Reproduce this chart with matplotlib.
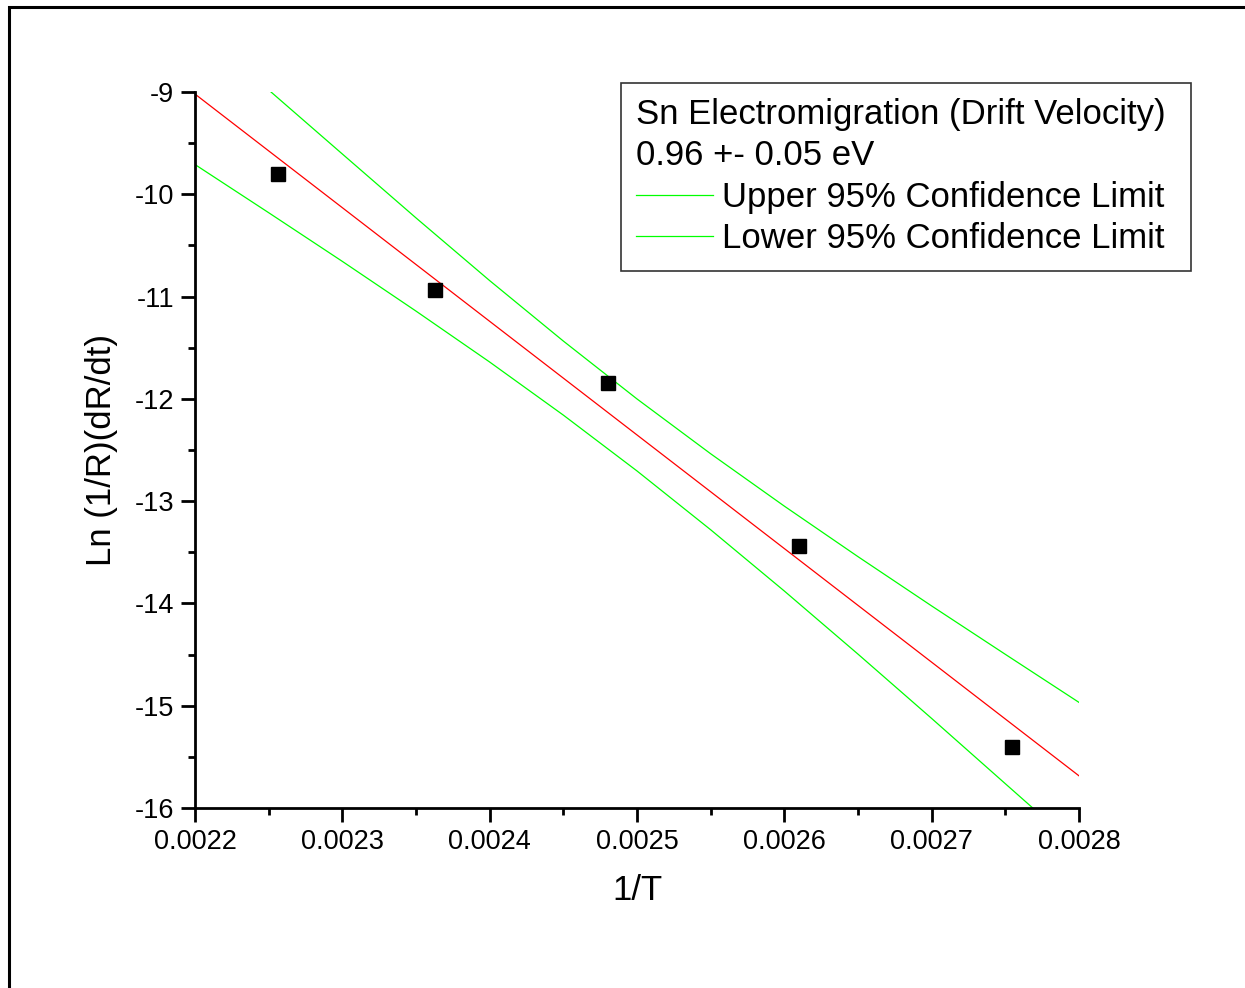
import numpy as np
import matplotlib
matplotlib.use('Agg')
import matplotlib.pyplot as plt
from matplotlib.patches import Rectangle
from matplotlib.ticker import MultipleLocator

plt.rcParams['font.family'] = ['Liberation Sans', 'DejaVu Sans']

# measured points
inv_t = [0.0022563, 0.0023629, 0.0024803, 0.0026100, 0.0027545]
ln_rate = [-9.80, -10.935, -11.845, -13.438, -15.403]

# linear fit (endpoints)
fit_x = [0.0022, 0.0028]
fit_y = [-9.02, -15.686]

# 95% confidence bands
upper_x = [0.0022516, 0.0023, 0.00235, 0.0024, 0.00245, 0.0025, 0.00255,
           0.0026, 0.00265, 0.0027, 0.00275, 0.0028]
upper_y = [-9.0, -9.606, -10.231, -10.844, -11.435, -12.001, -12.537,
           -13.049, -13.543, -14.025, -14.498, -14.968]
lower_x = [0.0022, 0.00225, 0.0023, 0.00235, 0.0024, 0.00245, 0.0025,
           0.00255, 0.0026, 0.00265, 0.0027, 0.00275, 0.0027686]
lower_y = [-9.709, -10.180, -10.656, -11.142, -11.640, -12.159, -12.705,
           -13.280, -13.879, -14.496, -15.125, -15.763, -16.0]

fig = plt.figure(figsize=(12.45, 9.88), dpi=100)
ax = fig.add_axes([0.1566, 0.1822, 0.7101, 0.7247])

ax.plot(fit_x, fit_y, color='#ff0000', lw=0.9)
ax.plot(upper_x, upper_y, color='#00ff00', lw=0.9, label='Upper 95% Confidence Limit')
ax.plot(lower_x, lower_y, color='#00ff00', lw=0.9, label='Lower 95% Confidence Limit')
ax.plot(inv_t, ln_rate, 's', color='black', markersize=10, zorder=5)

ax.set_xlim(0.0022, 0.0028)
ax.set_ylim(-16, -9)
ax.xaxis.set_major_locator(MultipleLocator(0.0001))
ax.xaxis.set_minor_locator(MultipleLocator(0.00005))
ax.yaxis.set_major_locator(MultipleLocator(1))
ax.yaxis.set_minor_locator(MultipleLocator(0.5))
ax.set_xticklabels([f'{v:.4f}' for v in ax.get_xticks()])
ax.set_yticklabels([f'{int(v)}' for v in ax.get_yticks()])

for s in ['top', 'right']:
    ax.spines[s].set_visible(False)
for s in ['left', 'bottom']:
    ax.spines[s].set_linewidth(2)
ax.tick_params(which='major', length=10, width=2, labelsize=19.5, pad=5)
ax.tick_params(which='minor', length=5, width=2)

ax.set_xlabel('1/T', fontsize=25, labelpad=14)
ax.set_ylabel('Ln (1/R)(dR/dt)', fontsize=25, labelpad=12)

# trailing space gives the wider right margin of the original box
leg = ax.legend(title='Sn Electromigration (Drift Velocity) \n0.96 +- 0.05 eV',
                alignment='left', fontsize=25, title_fontsize=25,
                loc='upper right', bbox_to_anchor=(1.127, 1.013),
                frameon=True, fancybox=False, edgecolor='black',
                handlelength=2.2, handletextpad=0.26, borderpad=0.45,
                labelspacing=0.25, borderaxespad=0)
leg.get_frame().set_linewidth(1.2)
leg.get_title().set_linespacing(1.3)

# outer frame around the whole graph page
fig.patches.append(Rectangle((9 / 1245, -0.1), 1.0, 1.1 - 7 / 988,
                             transform=fig.transFigure, fill=False,
                             edgecolor='black', lw=2.2))

fig.savefig('out.png', dpi=100)
